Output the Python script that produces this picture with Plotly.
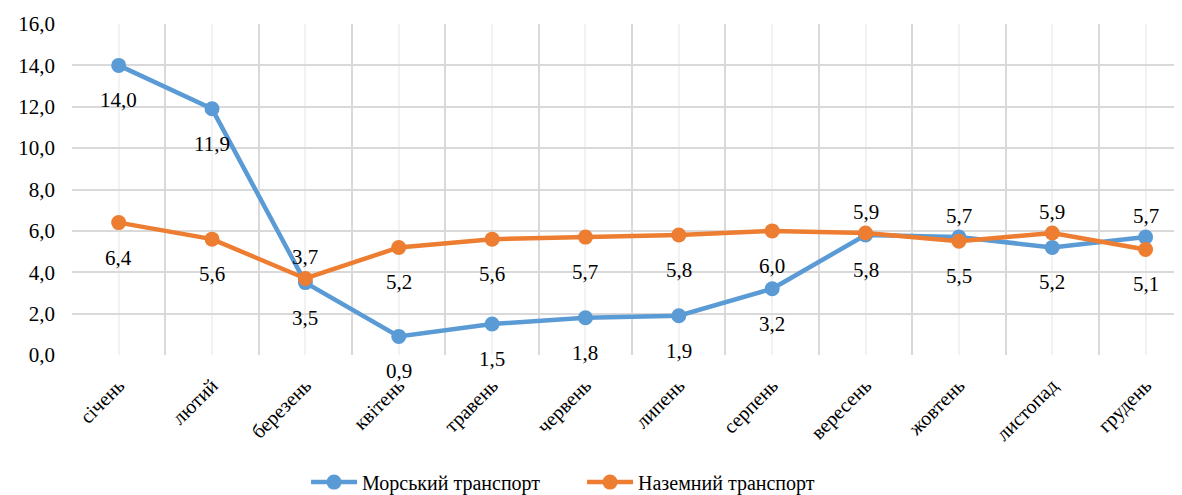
import plotly.graph_objects as go

months = ["січень", "лютий", "березень", "квітень", "травень", "червень",
          "липень", "серпень", "вересень", "жовтень", "листопад", "грудень"]
sea = [14.0, 11.9, 3.5, 0.9, 1.5, 1.8, 1.9, 3.2, 5.8, 5.7, 5.2, 5.7]
land = [6.4, 5.6, 3.7, 5.2, 5.6, 5.7, 5.8, 6.0, 5.9, 5.5, 5.9, 5.1]
sea_name = "Морський транспорт"
land_name = "Наземний транспорт"
# label placement: 1 = above point, -1 = below point
sea_pos = [-1, -1, -1, -1, -1, -1, -1, -1, -1, 1, -1, 1]
land_pos = [-1, -1, 1, -1, -1, -1, -1, -1, 1, -1, 1, -1]
y_ticks = [0, 2, 4, 6, 8, 10, 12, 14, 16]

BLUE = "#5B9BD5"
ORANGE = "#ED7D31"
FONT = "Liberation Serif, Times New Roman, serif"
FS = 20

x = list(range(len(months)))

fig = go.Figure()
fig.add_trace(go.Scatter(x=x, y=sea, name=sea_name, mode="lines+markers",
                         line=dict(color=BLUE, width=4.5),
                         marker=dict(color=BLUE, size=15)))
fig.add_trace(go.Scatter(x=x, y=land, name=land_name, mode="lines+markers",
                         line=dict(color=ORANGE, width=4.5),
                         marker=dict(color=ORANGE, size=15)))

annotations = []
for vals, pos in ((sea, sea_pos), (land, land_pos)):
    for xi, v, p in zip(x, vals, pos):
        annotations.append(dict(x=xi, y=v, xref="x", yref="y",
                                text=f"{v:.1f}".replace(".", ","),
                                showarrow=False,
                                yshift=21 if p > 0 else -35,
                                font=dict(family=FONT, size=FS + 1, color="#000000")))

# page body has an 8px margin, so the figure is a bit smaller
fig.update_layout(
    width=1174, height=487,
    margin=dict(l=64, r=0, t=16, b=140, autoexpand=False),
    paper_bgcolor="white", plot_bgcolor="white",
    separators=", ",
    font=dict(family=FONT, size=FS, color="#000000"),
    annotations=annotations,
    showlegend=True,
    legend=dict(orientation="h", x=0.4595, xanchor="center", y=-0.384, yanchor="middle",
                font=dict(family=FONT, size=FS), itemwidth=46, tracegroupgap=0,
                entrywidth=215, entrywidthmode="pixels"),
)
fig.update_xaxes(
    range=[-0.5, 11.39], automargin=False,
    tickmode="array", tickvals=x, ticktext=months,
    tickangle=-45,
    showgrid=True, gridcolor="#f2f2f2", gridwidth=1.5,
    minor=dict(tickmode="array", tickvals=[i - 0.5 for i in x] + [len(x) - 0.5],
               showgrid=True, gridcolor="#d9d9d9", gridwidth=1.5),
    showline=False, zeroline=False,
    ticks="", ticklabelstandoff=14,
    tickfont=dict(family=FONT, size=FS),
)
fig.update_yaxes(
    range=[0, 16], automargin=False,
    tickmode="array", tickvals=y_ticks, tickformat=".1f",
    showgrid=True, gridcolor="#d9d9d9", gridwidth=1.5,
    zeroline=False, showline=False,
    ticks="", ticklabelstandoff=16,
    tickfont=dict(family=FONT, size=FS + 1),
)

fig.write_html("out.html")
